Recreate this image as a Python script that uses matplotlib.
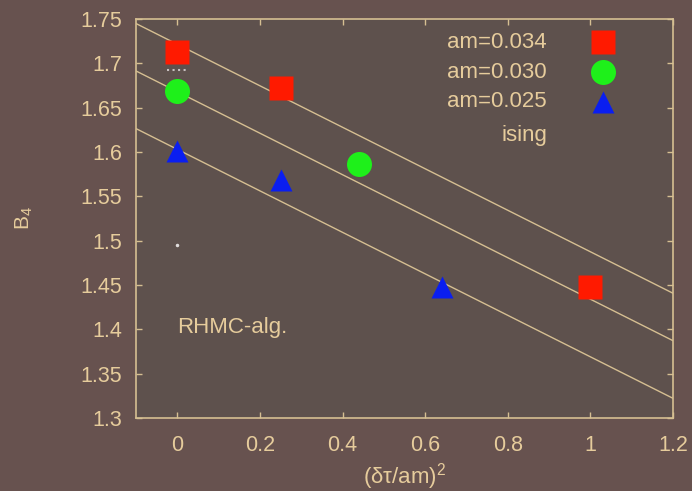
import numpy as np
import matplotlib.pyplot as plt

plt.rcParams['font.family'] = ['Liberation Sans', 'DejaVu Sans']
plt.rcParams['mathtext.fontset'] = 'custom'
plt.rcParams['mathtext.rm'] = 'Liberation Sans'
plt.rcParams['mathtext.it'] = 'Liberation Sans'

# data
x_034 = [0.0, 0.25, 1.0]
b4_034 = [1.713, 1.672, 1.448]
x_030 = [0.0, 0.44]
b4_030 = [1.669, 1.586]
x_025 = [0.0, 0.25, 0.64]
b4_025 = [1.601, 1.568, 1.448]

# fitted lines: intercept at x=0 and common slope
fit_intercepts = [1.7215, 1.668, 1.603]
fit_slope = -0.234

# ising marks at x=0
ising_y = 1.692
ising_dot = 1.495

labels = ['am=0.034', 'am=0.030', 'am=0.025', 'ising']

txt = '#e6cc9c'
line_col = '#d6bf92'

fig = plt.figure(figsize=(6.92, 4.91), dpi=100)
fig.patch.set_facecolor('#67524f')
ax = fig.add_axes([0.1965, 0.1487, 0.776, 0.8126])
ax.set_facecolor('#5e514d')

xs = np.array([-0.1, 1.2])
for b in fit_intercepts:
    ax.plot(xs, b + fit_slope * xs, color=line_col, lw=1.0, zorder=2)

ms = 17
ax.plot(x_034, b4_034, 's', color='#ff1a00', ms=ms, mec='none', zorder=3)
ax.plot(x_030, b4_030, 'o', color='#1ef01a', ms=ms + 1, mec='none', zorder=3)
ax.plot(x_025, b4_025, '^', color='#0a1ef0', ms=ms - 1, mec='none', zorder=3)

ax.plot([-0.025, 0.022], [ising_y, ising_y], ':', color='#c8c0c0', lw=1.5, zorder=3)
ax.plot([0.0], [ising_dot], '.', color='#e0dcdc', ms=3, zorder=3)

# legend drawn by hand, right-aligned text and markers
leg_x_text = 0.895
leg_x_mark = 1.03
leg_y = [1.724, 1.690, 1.6565, 1.619]
mk = [('s', '#ff1a00', ms), ('o', '#1ef01a', ms + 1), ('^', '#0a1ef0', ms - 1)]
for i, lab in enumerate(labels):
    ax.text(leg_x_text, leg_y[i], lab, ha='right', va='center', fontsize=16, color=txt)
    if i < 3:
        m, c, s = mk[i]
        ax.plot([leg_x_mark], [leg_y[i]], m, color=c, ms=s, mec='none', zorder=3)

ax.text(0.0, 1.4015, 'RHMC-alg.', ha='left', va='center', fontsize=16, color=txt)

ax.set_xlim(-0.1, 1.2)
ax.set_ylim(1.3, 1.75)
ax.set_xticks([0, 0.2, 0.4, 0.6, 0.8, 1, 1.2])
ax.set_xticklabels(['0', '0.2', '0.4', '0.6', '0.8', '1', '1.2'])
ax.set_yticks(np.arange(1.3, 1.751, 0.05))
ax.set_yticklabels(['1.3', '1.35', '1.4', '1.45', '1.5', '1.55', '1.6', '1.65', '1.7', '1.75'])

ax.tick_params(direction='in', length=4, width=1, color=line_col, labelcolor=txt,
               labelsize=15.5, top=True, right=True)
ax.tick_params(axis='y', pad=10)
ax.tick_params(axis='x', pad=12)
for sp in ax.spines.values():
    sp.set_color(line_col)
    sp.set_linewidth(1.2)

ax.set_xlabel('(δτ/am)$^{2}$', fontsize=16, color=txt, labelpad=4)
ax.set_ylabel('B$_{4}$', fontsize=15, color=txt, labelpad=33)

fig.savefig('out.png', dpi=100, facecolor=fig.get_facecolor())
